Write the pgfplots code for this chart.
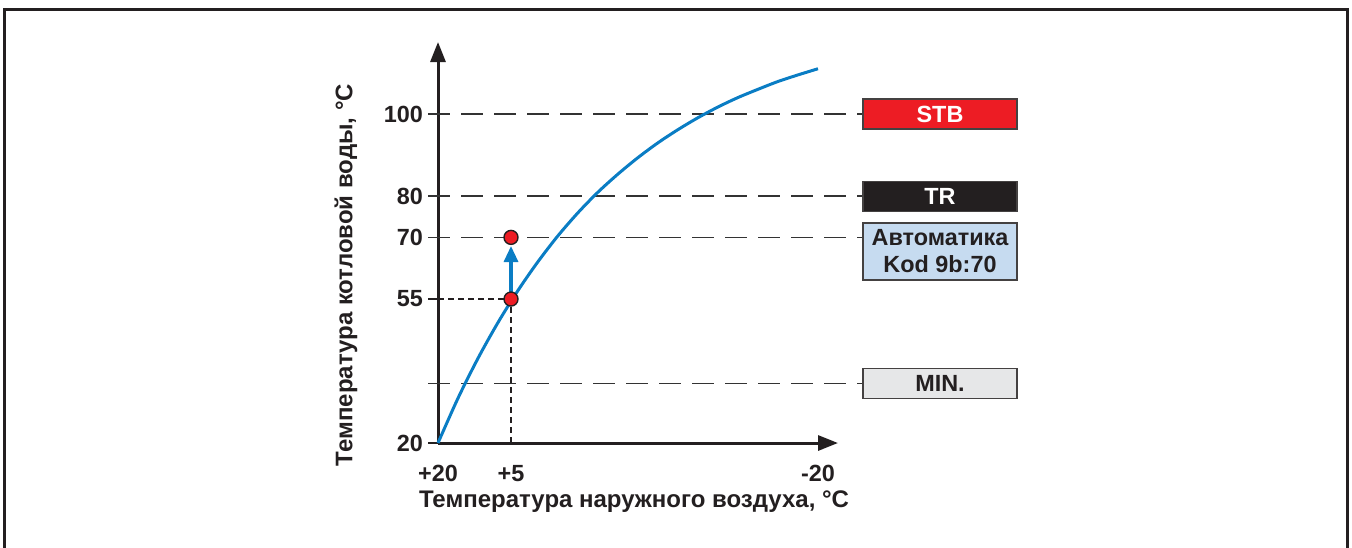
\documentclass[border=0pt]{standalone}
\usepackage{fontspec}
\setmainfont{Liberation Sans}
\usepackage{pgfplots}
\pgfplotsset{compat=1.18}
\usetikzlibrary{arrows.meta}
\definecolor{ink}{HTML}{231F20}
\definecolor{curve}{HTML}{0A7DC4}
\definecolor{stbred}{HTML}{ED1C24}
\definecolor{autoblue}{HTML}{C6DBF0}
\definecolor{mingray}{HTML}{E6E7E8}
\definecolor{dashgray}{HTML}{333333}
\begin{document}
\begin{tikzpicture}
\path[use as bounding box] (0,0) rectangle (676pt,-273.5pt);
\draw[line width=1.5pt, ink] (2.25pt,-280pt) -- (2.25pt,-4.75pt) -- (673.5pt,-4.75pt) -- (673.5pt,-280pt);
\begin{axis}[
  at={(219pt,-221.5pt)}, anchor=south west,
  scale only axis, width=200pt, height=200.5pt,
  xmin=0, xmax=400, ymin=20, ymax=117.5,
  clip=false,
  axis lines=left,
  axis line style={line width=1.5pt, ink, -{Triangle[length=10pt,width=7.5pt]}},
  xtick={0,73,380}, xticklabels={+20,+5,-20},
  ytick={20,55,70,80,100}, yticklabels={20,55,70,80,100},
  xtick style={draw=none},
  ytick style={line width=0.8pt, ink},
  tick align=outside, major tick length=5pt,
  ticklabel style={font=\fontsize{11.7pt}{13pt}\selectfont\bfseries, text=ink},
  xticklabel style={yshift=-2.5pt},
  yticklabel style={xshift=1pt},
  /pgf/number format/assume math mode=true,
]
% reference dashed lines
\addplot[dashgray, line width=0.8pt, dash pattern=on 11pt off 5.5pt] coordinates {(-10,100) (425,100)};
\addplot[dashgray, line width=0.8pt, dash pattern=on 11pt off 5.5pt] coordinates {(-10,80) (425,80)};
\addplot[dashgray, line width=0.8pt, dash pattern=on 11pt off 5.5pt] coordinates {(-10,70) (425,70)};
\addplot[dashgray, line width=0.8pt, dash pattern=on 11pt off 5.5pt] coordinates {(-10,34.5) (425,34.5)};
\addplot[ink, line width=0.6pt, dash pattern=on 3pt off 2pt] coordinates {(-10,55) (73,55)};
\addplot[ink, line width=0.6pt, dash pattern=on 3pt off 2pt] coordinates {(73,20) (73,55)};
% heating curve
\addplot[curve, line width=1.5pt, smooth] coordinates {
 (0,20) (20,30.9) (40,40.6) (60,49.3) (80,57.1) (100,64.1) (120,70.4) (140,76.0)
 (160,81.0) (180,85.4) (200,89.4) (220,93.0) (240,96.2) (260,99.1) (280,101.7)
 (300,104.0) (320,106.0) (340,107.9) (360,109.5) (380,111.0)};
% arrow
\addplot[curve, line width=1.6pt, -{Triangle[length=8pt,width=7pt]}] coordinates {(73,56.8) (73,67.9)};
% points
\addplot[only marks, mark=*, mark size=3.5pt, mark options={fill=stbred, draw=ink, line width=0.7pt}] coordinates {(73,55) (73,70)};
% boxes
\draw[draw=ink!85, line width=0.7pt, fill=stbred] (axis cs:425,96.35) rectangle (axis cs:579,103.65);
\node[text=white, font=\fontsize{11.7pt}{13pt}\selectfont\bfseries] at (axis cs:502,100) {STB};
\draw[draw=ink!85, line width=0.7pt, fill=ink] (axis cs:425,76.35) rectangle (axis cs:579,83.65);
\node[text=white, font=\fontsize{11.7pt}{13pt}\selectfont\bfseries] at (axis cs:502,80) {TR};
\draw[draw=ink!85, line width=0.7pt, fill=autoblue] (axis cs:425,59.6) rectangle (axis cs:579,73.5);
\node[text=ink, align=center, font=\fontsize{11.7pt}{13.5pt}\selectfont\bfseries] at (axis cs:502,66.55) {Автоматика\\Kod 9b:70};
\draw[draw=ink!85, line width=0.7pt, fill=mingray] (axis cs:425,30.85) rectangle (axis cs:579,38.15);
\node[text=ink, font=\fontsize{11.7pt}{13pt}\selectfont\bfseries] at (axis cs:502,34.5) {MIN.};
% axis labels
\node[rotate=90, text=ink, font=\fontsize{12pt}{14pt}\selectfont\bfseries] at (axis description cs:-0.23,0.419) {Температура котловой воды, °C};
\node[text=ink, font=\fontsize{12pt}{14pt}\selectfont\bfseries] at (axis description cs:0.49,-0.147) {Температура наружного воздуха, °C};
\end{axis}
\end{tikzpicture}
\end{document}
